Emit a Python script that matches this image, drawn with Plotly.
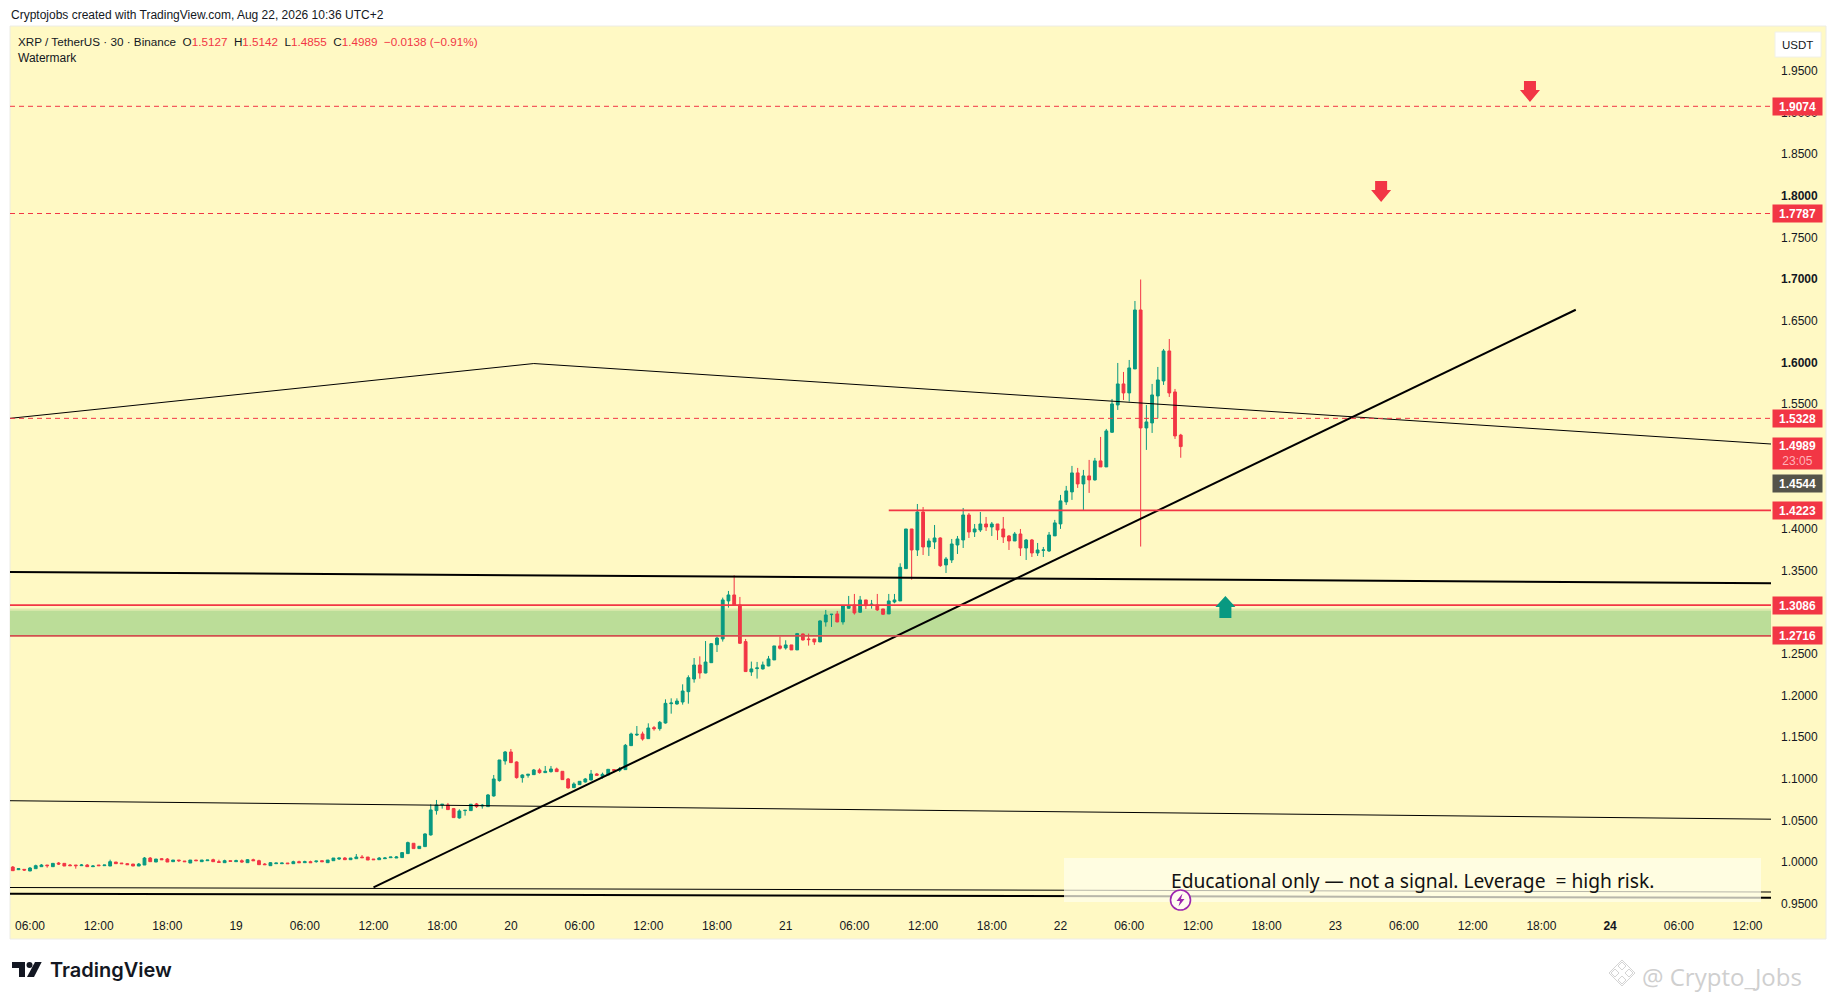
#!/usr/bin/env python3

import pandas as pd
import plotly.graph_objects as go

# 30 minute candles
candle_times = pd.date_range('2026-08-18 04:30', '2026-08-22 10:30', freq='30min')

opens = [
    .9942, .9910, .9914, .9894, .9922, .9946, .9966, .9946, .9990, .9986,
    .9966, .9966, .9958, .9966, .9946, .9966, .9958, .9954, 1.0002, .9990,
    .9982, .9978, .9954, .9966, 1.0050, 1.0002, 1.0042, 1.0038, 1.0006, 1.0026,
    1.0014, .9990, 1.0026, 1.0006, 1.0018, 1.0030, 1.0006, .9994, 1.0018, 1.0006,
    1.0018, .9994, 1.0030, 1.0018, .9978, .9958, .9982, .9982, .9990, .9982,
    1.0006, .9994, 1.0006, 1.0006, 1.0018, .9994, 1.0018, 1.0038, 1.0050, 1.0030,
    1.0042, 1.0062, 1.0062, 1.0038, 1.0030, 1.0042, 1.0054, 1.0050,
    1.0055, 1.0103, 1.0227, 1.0163, 1.0187, 1.0327, 1.0619, 1.0687, 1.0687, 1.0643,
    1.0531, 1.0619, 1.0619, 1.0699, 1.0675, 1.0667, 1.0795, 1.0979, 1.1215, 1.1323,
    1.1203, 1.1015, 1.1043, 1.1051, 1.1107, 1.1075, 1.1087, 1.1119, 1.1091, 1.0999,
    1.0895, 1.0931, 1.0963, 1.0987, 1.1059, 1.1027, 1.1047, 1.1111, 1.1103, 1.1111,
    1.1399, 1.1527, 1.1539, 1.1483, 1.1615, 1.1603, 1.1671, 1.1903, 1.1899, 1.1923,
    1.2047, 1.2199, 1.2367, 1.2271, 1.2395, 1.2611, 1.2680, 1.3136, 1.3208, 1.3088,
    1.2648, 1.2284, 1.2324, 1.2320, 1.2356, 1.2428, 1.2596, 1.2572, 1.2608, 1.2548,
    1.2740, 1.2680, 1.2680, 1.2644, 1.2884, 1.2972, 1.2980, 1.2884, 1.3048, 1.3088,
    1.3000, 1.3148, 1.3088, 1.3088, 1.3040, 1.2980, 1.3124, 1.3136, 1.3524, 1.4000,
    1.3748, 1.4204, 1.3784, 1.3844, 1.3892, 1.3568, 1.3628, 1.3808, 1.3868, 1.4168,
    1.3964, 1.3988, 1.4060, 1.4024, 1.4060, 1.4000, 1.3916, 1.3856, 1.3940, 1.3772,
    1.3868, 1.3712, 1.3744, 1.3736, 1.3917, 1.4061, 1.4325, 1.4445, 1.4673, 1.4541,
    1.4637, 1.4589, 1.4817, 1.4745, 1.5161, 1.5489, 1.5741, 1.5633, 1.5921, 1.6629,
    1.5213, 1.5273, 1.5597, 1.5777, 1.6137, 1.5645, 1.5127,
]
highs = [
    .9954, .9930, .9914, .9942, .9970, .9978, .9966, .9986, 1.0002, .9986,
    .9978, .9966, .9978, .9978, .9966, .9966, .9966, 1.0030, 1.0002, .9990,
    .9990, .9978, .9990, 1.0062, 1.0062, 1.0038, 1.0050, 1.0050, 1.0026, 1.0026,
    1.0014, 1.0026, 1.0026, 1.0026, 1.0026, 1.0042, 1.0030, 1.0030, 1.0018, 1.0030,
    1.0034, 1.0038, 1.0042, 1.0030, .9990, 1.0002, .9990, .9990, .9990, 1.0018,
    1.0018, 1.0018, 1.0018, 1.0014, 1.0018, 1.0026, 1.0050, 1.0050, 1.0062, 1.0050,
    1.0098, 1.0086, 1.0062, 1.0038, 1.0062, 1.0062, 1.0062, 1.0074,
    1.0119, 1.0247, 1.0227, 1.0191, 1.0347, 1.0695, 1.0747, 1.0695, 1.0711, 1.0651,
    1.0635, 1.0623, 1.0699, 1.0711, 1.0699, 1.0819, 1.1047, 1.1227, 1.1335, 1.1359,
    1.1211, 1.1055, 1.1055, 1.1119, 1.1127, 1.1155, 1.1155, 1.1135, 1.1091, 1.1011,
    1.0959, 1.0971, 1.1011, 1.1107, 1.1071, 1.1075, 1.1115, 1.1111, 1.1143, 1.1419,
    1.1555, 1.1635, 1.1567, 1.1667, 1.1635, 1.1695, 1.1955, 1.1967, 1.1967, 1.2135,
    1.2243, 1.2451, 1.2471, 1.2655, 1.2631, 1.2707, 1.3176, 1.3256, 1.3444, 1.3184,
    1.2680, 1.2408, 1.2404, 1.2408, 1.2476, 1.2596, 1.2708, 1.2664, 1.2608, 1.2752,
    1.2744, 1.2744, 1.2680, 1.2904, 1.3028, 1.2980, 1.3016, 1.3088, 1.3196, 1.3220,
    1.3196, 1.3148, 1.3148, 1.3220, 1.3040, 1.3220, 1.3220, 1.3588, 1.4000, 1.4000,
    1.4300, 1.4264, 1.3888, 1.4048, 1.3900, 1.3664, 1.3880, 1.3916, 1.4252, 1.4192,
    1.4060, 1.4204, 1.4144, 1.4084, 1.4060, 1.4144, 1.3928, 1.3964, 1.4000, 1.3880,
    1.3880, 1.3832, 1.3784, 1.3964, 1.4109, 1.4409, 1.4517, 1.4757, 1.4733, 1.4709,
    1.4829, 1.4853, 1.5105, 1.5201, 1.5561, 1.5993, 1.5885, 1.6029, 1.6737, 1.6995,
    1.5489, 1.5741, 1.5945, 1.6161, 1.6281, 1.5681, 1.5142,
]
lows = [
    .9898, .9906, .9894, .9894, .9922, .9946, .9934, .9946, .9966, .9954,
    .9954, .9922, .9954, .9946, .9946, .9958, .9958, .9954, .9982, .9982,
    .9970, .9954, .9954, .9966, 1.0006, 1.0002, 1.0030, 1.0002, 1.0006, 1.0002,
    1.0006, .9990, 1.0018, 1.0006, 1.0018, 1.0006, .9998, .9994, 1.0010, 1.0006,
    .9994, .9994, 1.0018, .9970, .9970, .9958, .9982, .9982, .9982, .9982,
    .9994, .9994, .9994, .9994, 1.0006, .9994, 1.0018, 1.0026, 1.0030, 1.0030,
    1.0042, 1.0054, 1.0026, 1.0030, 1.0030, 1.0042, 1.0054, 1.0050,
    1.0051, 1.0099, 1.0163, 1.0163, 1.0183, 1.0319, 1.0571, 1.0643, 1.0627, 1.0531,
    1.0523, 1.0559, 1.0615, 1.0651, 1.0643, 1.0663, 1.0787, 1.0967, 1.1171, 1.1191,
    1.1003, 1.0955, 1.1015, 1.1047, 1.1063, 1.1071, 1.1075, 1.1083, 1.0991, 1.0883,
    1.0891, 1.0931, 1.0955, 1.0983, 1.1039, 1.1003, 1.1047, 1.1075, 1.1083, 1.1107,
    1.1395, 1.1515, 1.1459, 1.1479, 1.1579, 1.1579, 1.1663, 1.1783, 1.1891, 1.1891,
    1.1903, 1.2155, 1.2203, 1.2267, 1.2391, 1.2523, 1.2648, 1.3056, 1.3084, 1.2620,
    1.2284, 1.2236, 1.2204, 1.2312, 1.2352, 1.2428, 1.2552, 1.2552, 1.2548, 1.2548,
    1.2660, 1.2600, 1.2608, 1.2644, 1.2828, 1.2824, 1.2880, 1.2852, 1.3044, 1.2972,
    1.2992, 1.3040, 1.3044, 1.3016, 1.2968, 1.2980, 1.3108, 1.3136, 1.3524, 1.3392,
    1.3676, 1.3688, 1.3676, 1.3760, 1.3544, 1.3472, 1.3592, 1.3700, 1.3772, 1.3892,
    1.3904, 1.3964, 1.3976, 1.3916, 1.3868, 1.3832, 1.3748, 1.3856, 1.3676, 1.3628,
    1.3664, 1.3676, 1.3664, 1.3724, 1.3917, 1.4001, 1.4289, 1.4349, 1.4493, 1.4229,
    1.4433, 1.4581, 1.4745, 1.4745, 1.5153, 1.5429, 1.5549, 1.5529, 1.5921, 1.3789,
    1.4949, 1.5153, 1.5329, 1.5729, 1.5585, 1.5081, 1.4855,
]
closes = [
    .9898, .9922, .9906, .9930, .9958, .9966, .9958, .9986, .9978, .9954,
    .9958, .9958, .9966, .9946, .9954, .9958, .9966, 1.0006, .9982, .9982,
    .9970, .9954, .9978, 1.0050, 1.0006, 1.0038, 1.0030, 1.0002, 1.0026, 1.0018,
    1.0006, 1.0026, 1.0018, 1.0026, 1.0026, 1.0006, .9998, 1.0018, 1.0010, 1.0018,
    1.0002, 1.0030, 1.0018, .9970, .9970, .9994, .9990, .9990, .9982, 1.0006,
    .9994, 1.0006, .9994, 1.0014, 1.0006, 1.0026, 1.0050, 1.0050, 1.0030, 1.0050,
    1.0062, 1.0054, 1.0026, 1.0030, 1.0050, 1.0050, 1.0062, 1.0062,
    1.0115, 1.0235, 1.0163, 1.0191, 1.0339, 1.0627, 1.0687, 1.0695, 1.0631, 1.0535,
    1.0615, 1.0623, 1.0695, 1.0667, 1.0683, 1.0807, 1.0999, 1.1227, 1.1323, 1.1195,
    1.1015, 1.1047, 1.1055, 1.1107, 1.1075, 1.1091, 1.1119, 1.1087, 1.0991, 1.0891,
    1.0939, 1.0971, 1.0999, 1.1059, 1.1043, 1.1055, 1.1115, 1.1103, 1.1119, 1.1403,
    1.1539, 1.1535, 1.1479, 1.1611, 1.1603, 1.1679, 1.1907, 1.1911, 1.1935, 1.2055,
    1.2215, 1.2367, 1.2271, 1.2403, 1.2623, 1.2691, 1.3148, 1.3208, 1.3088, 1.2628,
    1.2288, 1.2320, 1.2332, 1.2368, 1.2440, 1.2596, 1.2568, 1.2608, 1.2548, 1.2744,
    1.2668, 1.2672, 1.2644, 1.2896, 1.2968, 1.2976, 1.2884, 1.3080, 1.3080, 1.2992,
    1.3148, 1.3080, 1.3096, 1.3028, 1.2976, 1.3136, 1.3148, 1.3540, 1.4000, 1.3748,
    1.4204, 1.3784, 1.3856, 1.3892, 1.3560, 1.3640, 1.3820, 1.3880, 1.4168, 1.3964,
    1.4000, 1.4060, 1.4024, 1.4060, 1.3988, 1.3904, 1.3856, 1.3940, 1.3772, 1.3868,
    1.3712, 1.3748, 1.3748, 1.3928, 1.4073, 1.4337, 1.4457, 1.4673, 1.4541, 1.4637,
    1.4589, 1.4817, 1.4745, 1.5177, 1.5501, 1.5741, 1.5633, 1.5933, 1.6629, 1.5213,
    1.5285, 1.5609, 1.5789, 1.6137, 1.5633, 1.5117, 1.4989,
]

# drawn trend lines: times and prices of their end points
T_LEFT = '2026-08-18 04:15:18'
T_RIGHT = '2026-08-24 14:03:00'

rising_times = ['2026-08-19 12:00', '2026-08-23 21:00']
rising_prices = [0.9698, 1.6632]
roof_times = [T_LEFT, '2026-08-20 02:00', T_RIGHT]
roof_prices = [1.5328, 1.5986, 1.5020]
flat_times = [T_LEFT, T_RIGHT]
flat_prices = [1.3483, 1.3348]
mid_prices = [1.0738, 1.0516]
low_prices = [0.9696, 0.9642]
base_prices = [0.9622, 0.9573]

support_top_price = 1.3086
support_bottom_price = 1.2716
zone_top_price = 1.3020
zone_edge_price = 1.3045
resist_prices = [1.9074, 1.7787]
pivot_price = 1.5328
level_price = 1.4223
level_start = '2026-08-21 09:00'

# axis labels, the ticks that sit fully behind a price tag are left out
y_ticks = [0.95, 1.00, 1.05, 1.10, 1.15, 1.20, 1.25, 1.35, 1.40, 1.55,
           1.60, 1.65, 1.70, 1.75, 1.80, 1.85, 1.90, 1.95]
y_labels = ['%.4f' % v for v in y_ticks]
for bold in (1.60, 1.70, 1.80):
    y_labels[y_ticks.index(bold)] = '<b>%.4f</b>' % bold

x_ticks = pd.date_range('2026-08-18 06:00', '2026-08-24 12:00', freq='6h')
x_labels = ['06:00', '12:00', '18:00', '19', '06:00', '12:00', '18:00', '20',
            '06:00', '12:00', '18:00', '21', '06:00', '12:00', '18:00', '22',
            '06:00', '12:00', '18:00', '23', '06:00', '12:00', '18:00', '<b>24</b>',
            '06:00', '12:00']

# price labels on the right hand scale
tag_prices = [1.9074, 1.7787, 1.5328, 1.4544, 1.4223, 1.3086, 1.2716]
tag_colors = ['#F23645', '#F23645', '#F23645', '#55544A', '#F23645', '#F23645', '#F23645']

down_arrow_times = ['2026-08-23 17:00', '2026-08-23 04:00']
down_arrow_prices = [1.9258, 1.8057]
up_arrow_time = '2026-08-22 14:24'
up_arrow_price = 1.3063

RED = '#F23645'
GREEN = '#089981'
PANE = '#FFF9C4'
FONT = 'Liberation Sans'

W, H = 1835, 1000
L, R, T, B = 10, 1771, 26, 910


def px(x):
    return (x - L) / (R - L)


def py(y):
    return (B - y) / (B - T)


def path(points):
    return 'M ' + ' L '.join('%.5f %.5f' % (px(a), py(b)) for a, b in points) + ' Z'


def text(x, y, s, size=12, color='#131722', anchor='left', font=FONT, weight=None):
    return dict(xref='paper', yref='paper', x=px(x), y=py(y), text=s, showarrow=False,
                xanchor=anchor, yanchor='middle', align=anchor,
                font=dict(family=font, size=size, color=color, weight=weight))


fig = go.Figure()

fig.add_trace(go.Candlestick(
    x=candle_times, open=opens, high=highs, low=lows, close=closes,
    increasing=dict(line=dict(color=GREEN, width=1), fillcolor=GREEN),
    decreasing=dict(line=dict(color=RED, width=1), fillcolor=RED),
    whiskerwidth=0,
))


def add_line(xs, ys, color='#000000', width=1.0, dash='solid'):
    fig.add_trace(go.Scatter(x=xs, y=ys, mode='lines', line=dict(color=color, width=width, dash=dash)))


add_line(roof_times, roof_prices, width=1)
add_line(flat_times, mid_prices, width=1)
add_line(flat_times, low_prices, width=1)
add_line(flat_times, base_prices, width=2)
add_line(flat_times, flat_prices, width=2)
add_line(rising_times, rising_prices, width=2)
for p in resist_prices:
    add_line(flat_times, [p, p], color=RED, width=1, dash='5px 4px')
add_line(flat_times, [pivot_price, pivot_price], color=RED, width=1, dash='5px 4px')
add_line([level_start, T_RIGHT], [level_price, level_price], color=RED, width=1.8)
add_line(flat_times, [support_top_price, support_top_price], color=RED, width=1.8)
add_line(flat_times, [support_bottom_price, support_bottom_price], color='#D24F4F', width=1.8)

shapes = [
    # pane behind the whole chart
    dict(type='rect', xref='paper', yref='paper', x0=px(10), x1=px(1826), y0=py(26), y1=py(939),
         fillcolor=PANE, line=dict(color='#ECECE6', width=1), layer='below'),
    # support zone with its pale upper edge
    dict(type='rect', xref='x', yref='y', x0=T_LEFT, x1=T_RIGHT,
         y0=zone_top_price, y1=zone_edge_price,
         fillcolor='#DFE9AE', line=dict(width=0), layer='below'),
    dict(type='rect', xref='x', yref='y', x0=T_LEFT, x1=T_RIGHT,
         y0=support_bottom_price, y1=zone_top_price,
         fillcolor='#BBDD98', line=dict(width=0), layer='below'),
    # note box, lies over the two bottom lines
    dict(type='rect', xref='paper', yref='paper', x0=px(1064), x1=px(1761), y0=py(858), y1=py(902),
         fillcolor='rgba(255,253,236,0.72)', line=dict(width=0), layer='above'),
    # currency button
    dict(type='rect', xref='paper', yref='paper', x0=px(1775), x1=px(1821), y0=py(32), y1=py(57),
         fillcolor='#FFFFFF', line=dict(color='#F0F0E8', width=1), layer='above'),
    # bolt badge
    dict(type='circle', xref='paper', yref='paper', x0=px(1170.5), x1=px(1190.5), y0=py(890), y1=py(910),
         fillcolor='#FFFDF0', line=dict(color='#9C27B0', width=1.6), layer='above'),
    dict(type='path', xref='paper', yref='paper', fillcolor='#9C27B0', line=dict(width=0), layer='above',
         path=path([(1182.5, 893.5), (1176.5, 901), (1180, 901), (1178.5, 906.5), (1184.5, 899),
                    (1181, 899)])),
    # TradingView mark
    dict(type='path', xref='paper', yref='paper', fillcolor='#131722', line=dict(width=0), layer='above',
         path=path([(12, 962), (25, 962), (25, 977), (19, 977), (19, 968), (12, 968)])),
    dict(type='circle', xref='paper', yref='paper', x0=px(26.5), x1=px(32.5), y0=py(962), y1=py(968),
         fillcolor='#131722', line=dict(width=0), layer='above'),
    dict(type='path', xref='paper', yref='paper', fillcolor='#131722', line=dict(width=0), layer='above',
         path=path([(35, 962), (41.7, 962), (34, 977), (27, 977)])),
]

# watermark mark, small diamonds
for cx, cy, r in [(1622, 966, 4), (1615, 973, 4), (1629, 973, 4), (1622, 980, 4), (1622, 973, 13)]:
    shapes.append(dict(type='path', xref='paper', yref='paper', fillcolor='rgba(0,0,0,0)',
                       line=dict(color='#D4D4D4', width=1), layer='above',
                       path=path([(cx, cy - r), (cx + r, cy), (cx, cy + r), (cx - r, cy)])))

ARROW_DOWN = 'M -6 10 L 6 10 L 6 1 L 10 1 L 0 -11 L -10 1 L -6 1 Z'
ARROW_UP = 'M -6 -11 L 6 -11 L 6 0 L 10 0 L 0 11 L -10 0 L -6 0 Z'
for t, p in zip(down_arrow_times, down_arrow_prices):
    shapes.append(dict(type='path', xref='x', yref='y', xsizemode='pixel', ysizemode='pixel',
                       xanchor=t, yanchor=p, path=ARROW_DOWN, fillcolor=RED, line=dict(width=0),
                       layer='above'))
shapes.append(dict(type='path', xref='x', yref='y', xsizemode='pixel', ysizemode='pixel',
                   xanchor=up_arrow_time, yanchor=up_arrow_price, path=ARROW_UP, fillcolor=GREEN,
                   line=dict(width=0), layer='above'))

red = lambda s: '<span style="color:%s">%s</span>' % (RED, s)
legend_line = ('XRP / TetherUS · 30 · Binance  O' + red('1.5127') + '  H' + red('1.5142')
               + '  L' + red('1.4855') + '  C' + red('1.4989') + '  ' + red('−0.0138 (−0.91%)'))

annotations = [
    text(9, 15, 'Cryptojobs created with TradingView.com, Aug 22, 2026 10:36 UTC+2', size=12),
    text(16, 41.5, legend_line, size=11.7),
    text(16, 58.5, 'Watermark', size=12),
    text(1798, 45, 'USDT', size=11.5, anchor='center'),
    text(1412, 880.5, 'Educational only — not a signal. Leverage  = high risk.', size=19.2, anchor='center',
         color='#111111', font='Noto Sans'),
    text(48, 969.5, 'TradingView', size=20, font='Inter', weight=600),
    text(1722, 976, '@ Crypto_Jobs', size=24, color='#CFCFCF', anchor='center', font='Open Sans'),
]

for p, c in zip(tag_prices, tag_colors):
    annotations.append(dict(xref='paper', yref='y', x=px(1772), y=p, text='<b>%.4f</b>' % p, showarrow=False,
                            xanchor='left', yanchor='middle', width=49, height=17, bgcolor=c,
                            borderpad=0, font=dict(family=FONT, size=12, color='#FFFFFF')))
annotations.append(dict(xref='paper', yref='paper', x=px(1772), y=py(453.4),
                        text='<b>1.4989</b><br><span style="color:#FFB3BA">23:05</span>',
                        showarrow=False, xanchor='left', yanchor='middle', width=49, height=31,
                        bgcolor=RED, borderpad=0, font=dict(family=FONT, size=12, color='#FFFFFF')))

fig.update_layout(
    width=W, height=H,
    margin=dict(l=L, r=W - R, t=T, b=H - B),
    paper_bgcolor='#FFFFFF', plot_bgcolor='rgba(0,0,0,0)',
    showlegend=False,
    shapes=shapes, annotations=annotations,
    font=dict(family=FONT, size=12, color='#131722'),
)
fig.update_xaxes(
    type='date', range=[T_LEFT, T_RIGHT], rangeslider_visible=False,
    tickmode='array', tickvals=x_ticks, ticktext=x_labels, tickangle=0,
    showgrid=False, zeroline=False, showline=False, ticks='', ticklabelstandoff=7,
)
fig.update_yaxes(
    range=[0.9426, 2.0038], side='right',
    tickmode='array', tickvals=y_ticks, ticktext=y_labels,
    showgrid=False, zeroline=False, showline=False, ticks='', ticklabelstandoff=9,
)

fig.write_html("out.html", config={'displayModeBar': False},
               post_script="document.body.style.margin='0';document.body.style.overflow='hidden';")
